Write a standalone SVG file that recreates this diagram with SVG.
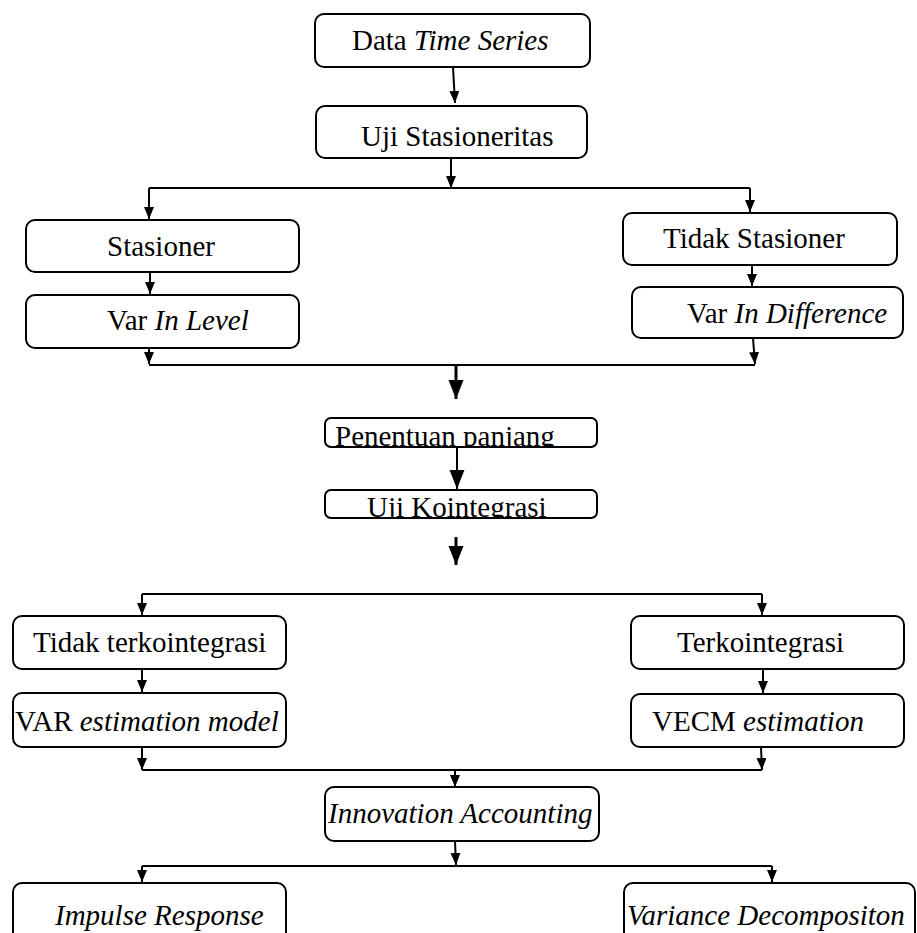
<svg xmlns="http://www.w3.org/2000/svg" width="917" height="933" viewBox="0 0 917 933">
  <style>
    .box { fill: #fff; stroke: #000; stroke-width: 2; }
    .t { font-family: "Liberation Serif", "Times New Roman", serif; font-size: 29px; fill: #000; }
    .i { font-style: italic; }
    .ln { fill: none; stroke: #000; stroke-width: 2; }
    .bold { stroke-width: 3; }
    .a { marker-end: url(#ah); }
    .ab { marker-end: url(#ahb); }
  </style>
  <defs>
    <marker id="ah" markerUnits="userSpaceOnUse" markerWidth="13" markerHeight="11" refX="12" refY="5" orient="auto">
      <path d="M0,0 L12,5 L0,10 z" fill="#000"/>
    </marker>
    <marker id="ahb" markerUnits="userSpaceOnUse" markerWidth="20" markerHeight="16" refX="19" refY="7.5" orient="auto">
      <path d="M0,0 L19,7.5 L0,15 z" fill="#000"/>
    </marker>
    <clipPath id="clipPen"><rect x="325" y="418" width="272" height="28"/></clipPath>
    <clipPath id="clipKoi"><rect x="325" y="490" width="272" height="27"/></clipPath>
  </defs>

  <rect width="917" height="933" fill="#fff"/>

  <g id="connectors">
    <path class="ln a" d="M453,67 L455,103"/>
    <path class="ln a" d="M451,158 L451,188"/>
    <path class="ln" d="M149,188 L750,188"/>
    <path class="ln a" d="M149,188 L149,219"/>
    <path class="ln a" d="M750,188 L750,212"/>
    <path class="ln a" d="M150,272 L150,294"/>
    <path class="ln a" d="M752,265 L752,286"/>
    <path class="ln a" d="M149,348 L149,364"/>
    <path class="ln a" d="M753,338 L755,364"/>
    <path class="ln" d="M149,365 L755,365"/>
    <path class="ln bold ab" d="M456,365 L456,399"/>
    <path class="ln ab" d="M457,447 L457,489"/>
    <path class="ln bold ab" d="M456,537 L456,565"/>
    <path class="ln" d="M142,594 L762,594"/>
    <path class="ln a" d="M142,594 L142,615"/>
    <path class="ln a" d="M762,594 L762,615"/>
    <path class="ln a" d="M142,669 L142,692"/>
    <path class="ln a" d="M763,669 L763,693"/>
    <path class="ln a" d="M142,747 L142,770"/>
    <path class="ln a" d="M761,747 L762,770"/>
    <path class="ln" d="M142,770 L762,770"/>
    <path class="ln a" d="M455,770 L455,787"/>
    <path class="ln a" d="M455,841 L456,865"/>
    <path class="ln" d="M142,866 L772,866"/>
    <path class="ln a" d="M142,866 L142,882"/>
    <path class="ln a" d="M772,866 L772,882"/>
  </g>

  <g id="data-time-series">
    <rect class="box" x="315" y="14" width="275" height="53" rx="9"/>
    <text class="t" x="352" y="50">Data <tspan class="i">Time Series</tspan></text>
  </g>

  <g id="uji-stasioneritas">
    <rect class="box" x="316" y="106" width="271" height="52" rx="9"/>
    <text class="t" x="361" y="146">Uji Stasioneritas</text>
  </g>

  <g id="stasioner">
    <rect class="box" x="26" y="220" width="273" height="52" rx="9"/>
    <text class="t" x="107" y="256">Stasioner</text>
  </g>

  <g id="var-in-level">
    <rect class="box" x="26" y="295" width="273" height="53" rx="9"/>
    <text class="t" x="107" y="330">Var <tspan class="i">In Level</tspan></text>
  </g>

  <g id="tidak-stasioner">
    <rect class="box" x="623" y="213" width="274" height="52" rx="9"/>
    <text class="t" x="663" y="248">Tidak Stasioner</text>
  </g>

  <g id="var-in-difference">
    <rect class="box" x="632" y="287" width="271" height="51" rx="9"/>
    <text class="t" x="687" y="323">Var <tspan class="i">In Difference</tspan></text>
  </g>

  <g id="penentuan-panjang">
    <rect class="box" x="325" y="418" width="272" height="29" rx="6"/>
    <text class="t" x="335" y="446" clip-path="url(#clipPen)">Penentuan panjang</text>
  </g>

  <g id="uji-kointegrasi">
    <rect class="box" x="325" y="490" width="272" height="28" rx="6"/>
    <text class="t" x="367" y="517" clip-path="url(#clipKoi)">Uji Kointegrasi</text>
  </g>

  <g id="tidak-terkointegrasi">
    <rect class="box" x="13" y="616" width="273" height="53" rx="9"/>
    <text class="t" x="33" y="652">Tidak terkointegrasi</text>
  </g>

  <g id="var-estimation-model">
    <rect class="box" x="13" y="693" width="273" height="54" rx="9"/>
    <text class="t" x="15" y="731">VAR <tspan class="i">estimation model</tspan></text>
  </g>

  <g id="terkointegrasi">
    <rect class="box" x="631" y="616" width="273" height="53" rx="9"/>
    <text class="t" x="677" y="652">Terkointegrasi</text>
  </g>

  <g id="vecm-estimation">
    <rect class="box" x="631" y="694" width="273" height="53" rx="9"/>
    <text class="t" x="652" y="731">VECM <tspan class="i">estimation</tspan></text>
  </g>

  <g id="innovation-accounting">
    <rect class="box" x="325" y="787" width="274" height="54" rx="9"/>
    <text class="t i" x="328" y="823">Innovation Accounting</text>
  </g>

  <g id="impulse-response">
    <rect class="box" x="13" y="883" width="273" height="70" rx="9"/>
    <text class="t i" x="55" y="925">Impulse Response</text>
  </g>

  <g id="variance-decomposition">
    <rect class="box" x="624" y="883" width="291" height="70" rx="9"/>
    <text class="t i" x="627" y="925">Variance Decompositon</text>
  </g>
</svg>
